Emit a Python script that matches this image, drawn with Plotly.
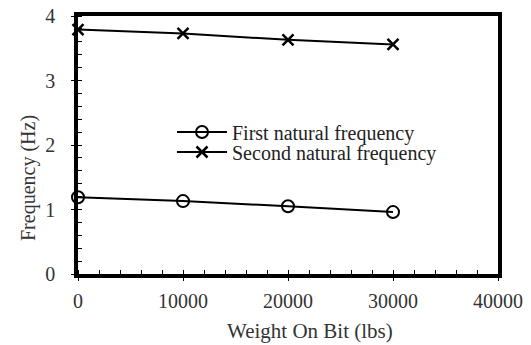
import plotly.graph_objects as go

wob = [0, 10000, 20000, 30000]
first_freq = [1.19, 1.13, 1.05, 0.96]
second_freq = [3.79, 3.73, 3.63, 3.56]

x_ticks = [0, 10000, 20000, 30000, 40000]
y_ticks = [0, 1, 2, 3, 4]

font_fam = "'Liberation Serif', 'Times New Roman', 'DejaVu Serif', serif"
txt_col = "#333333"

W, H = 531, 345
L, R, T, B = 78, 33, 16, 71
PW, PH = W - L - R, H - T - B


def px_x(px):
    return (px - L) / PW


def px_y(py):
    return (H - B - py) / PH


fig = go.Figure()
fig.add_trace(go.Scatter(
    x=wob, y=first_freq, mode="lines+markers", name="First natural frequency",
    line=dict(color="black", width=2),
    marker=dict(symbol="circle-open", size=12, color="black", line=dict(width=2)),
    cliponaxis=False, legend="legend",
))
fig.add_trace(go.Scatter(
    x=wob, y=second_freq, mode="lines+markers", name="Second natural frequency",
    line=dict(color="black", width=2),
    marker=dict(symbol="x-thin-open", size=11, color="black", line=dict(width=2.5)),
    cliponaxis=False, legend="legend2",
))

leg_common = dict(xanchor="left", yanchor="middle", bgcolor="rgba(0,0,0,0)",
                  font=dict(family=font_fam, size=20, color="#222222"),
                  itemwidth=50)

fig.update_layout(
    width=W, height=H,
    margin=dict(l=L, r=R, t=T, b=B, autoexpand=False),
    paper_bgcolor="white", plot_bgcolor="white",
    font=dict(family=font_fam, size=20, color=txt_col),
    showlegend=True,
    legend=dict(x=px_x(172), y=px_y(132), **leg_common),
    legend2=dict(x=px_x(172), y=px_y(152), **leg_common),
    annotations=[
        dict(text="Weight On Bit (lbs)", xref="paper", yref="paper",
             x=px_x(310), y=px_y(331), xanchor="center", yanchor="middle",
             showarrow=False, font=dict(family=font_fam, size=21, color=txt_col)),
        dict(text="Frequency (Hz)", xref="paper", yref="paper",
             x=px_x(28), y=px_y(178), xanchor="center", yanchor="middle",
             textangle=-90, showarrow=False,
             font=dict(family=font_fam, size=20, color=txt_col)),
    ],
)
fig.update_xaxes(
    range=[0, 40000], tickvals=x_ticks, ticktext=[str(v) for v in x_ticks],
    showgrid=False, zeroline=False, automargin=False,
    showline=True, linecolor="black", linewidth=3.5, mirror=True,
    ticks="outside", ticklen=3, tickcolor="black", tickwidth=1,
    tickfont=dict(family=font_fam, size=20, color=txt_col),
    minor=dict(dtick=2000, ticks="inside", ticklen=4, tickcolor="black", tickwidth=1),
    ticklabelstandoff=3,
)
fig.update_yaxes(
    range=[0, 4], tickvals=y_ticks, ticktext=[str(v) for v in y_ticks],
    showgrid=False, zeroline=False, automargin=False,
    showline=True, linecolor="black", linewidth=3.5, mirror=True,
    ticks="outside", ticklen=3, tickcolor="black", tickwidth=1,
    tickfont=dict(family=font_fam, size=20, color=txt_col),
    minor=dict(dtick=0.2, ticks="inside", ticklen=4, tickcolor="black", tickwidth=1),
    ticklabelstandoff=12,
)

fig.write_html("out.html", config={"displayModeBar": False},
               post_script="document.body.style.margin='0';")
